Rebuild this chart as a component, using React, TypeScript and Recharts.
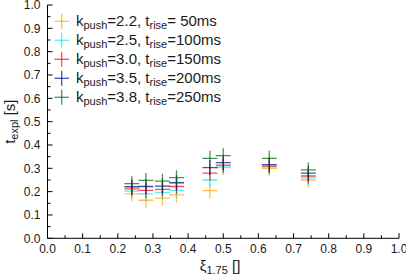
import React from 'react';
import { ScatterChart, Scatter, XAxis, YAxis } from 'recharts';

const xValues = [0.24, 0.28, 0.327, 0.367, 0.462, 0.5, 0.631, 0.742];
const seriesK22 = [0.19, 0.163, 0.172, 0.186, 0.204, 0.303, 0.3, 0.25];
const seriesK25 = [0.2025, 0.19, 0.197, 0.205, 0.25, 0.309, 0.306, 0.259];
const seriesK30 = [0.212, 0.205, 0.21, 0.222, 0.279, 0.314, 0.309, 0.267];
const seriesK35 = [0.221, 0.222, 0.224, 0.238, 0.303, 0.324, 0.316, 0.279];
const seriesK38 = [0.234, 0.248, 0.245, 0.26, 0.343, 0.354, 0.343, 0.293];

const kPush = ['2.2', '2.5', '3.0', '3.5', '3.8'];
const tRise = [' 50', '100', '150', '200', '250'];
const colors = ['#ffa500', '#00eeee', '#ff0000', '#00008b', '#006400'];
const allSeries = [seriesK22, seriesK25, seriesK30, seriesK35, seriesK38];

const xTicks = [0, 0.05, 0.1, 0.15, 0.2, 0.25, 0.3, 0.35, 0.4, 0.45, 0.5, 0.55, 0.6, 0.65, 0.7, 0.75, 0.8, 0.85, 0.9, 0.95, 1.0];
const yTicks = [0, 0.05, 0.1, 0.15, 0.2, 0.25, 0.3, 0.35, 0.4, 0.45, 0.5, 0.55, 0.6, 0.65, 0.7, 0.75, 0.8, 0.85, 0.9, 0.95, 1.0];

const W = 406;
const H = 277;
const LEFT = 47.5;
const TOP = 5;
const RIGHT = 399;
const BOTTOM = 238.3;
const MAJOR = 5;
const MINOR = 3;
const FONT = '"Liberation Sans", Arial, Helvetica, sans-serif';
const TXT = '#1a1a1a';

const isMajor = (v: number) => Math.round(v * 100) % 10 === 0;

const BottomTick = (props: any) => {
  const { x, payload } = props;
  const v = payload.value;
  const len = isMajor(v) ? MAJOR : MINOR;
  return (
    <g>
      <line x1={x} x2={x} y1={BOTTOM} y2={BOTTOM - len} stroke="#000" strokeWidth={1} />
      {isMajor(v) && (
        <text x={x} y={253} textAnchor="middle" fontSize={12} fontFamily={FONT} fill={TXT}>
          {v.toFixed(1)}
        </text>
      )}
    </g>
  );
};

const TopTick = (props: any) => {
  const { x, payload } = props;
  const len = isMajor(payload.value) ? MAJOR : MINOR;
  return <line x1={x} x2={x} y1={TOP} y2={TOP + len} stroke="#000" strokeWidth={1} />;
};

const LeftTick = (props: any) => {
  const { y, payload } = props;
  const v = payload.value;
  const len = isMajor(v) ? MAJOR : MINOR;
  return (
    <g>
      <line x1={LEFT} x2={LEFT + len} y1={y} y2={y} stroke="#000" strokeWidth={1} />
      {isMajor(v) && (
        <text x={40.5} y={y + 4.3} textAnchor="end" fontSize={12} fontFamily={FONT} fill={TXT}>
          {v.toFixed(1)}
        </text>
      )}
    </g>
  );
};

const RightTick = (props: any) => {
  const { y, payload } = props;
  const len = isMajor(payload.value) ? MAJOR : MINOR;
  return <line x1={RIGHT} x2={RIGHT - len} y1={y} y2={y} stroke="#000" strokeWidth={1} />;
};

const makeCross = (color: string) => (props: any) => {
  const { cx, cy } = props;
  const h = 7.5;
  return (
    <g stroke={color} strokeWidth={1.3} strokeOpacity={0.7}>
      <line x1={cx - h} x2={cx + h} y1={cy} y2={cy} />
      <line x1={cx} x2={cx} y1={cy - h} y2={cy + h} />
    </g>
  );
};

export default function App() {
  const datasets = allSeries.map((vals) => vals.map((y, i) => ({ x: xValues[i], y })));
  return (
    <div style={{ position: 'absolute', left: 0, top: 0, width: W, height: H, background: '#fff' }}>
      <ScatterChart width={W} height={H} margin={{ top: TOP, right: W - RIGHT, bottom: 0, left: 0 }}>
        <XAxis
          xAxisId="b"
          type="number"
          dataKey="x"
          domain={[0, 1]}
          ticks={xTicks}
          interval={0}
          height={H - BOTTOM}
          tickLine={false}
          axisLine={{ stroke: '#000' }}
          tick={<BottomTick />}
          allowDataOverflow
        />
        <XAxis
          xAxisId="t"
          orientation="top"
          type="number"
          dataKey="x"
          domain={[0, 1]}
          ticks={xTicks}
          interval={0}
          height={0}
          tickLine={false}
          axisLine={{ stroke: '#000' }}
          tick={<TopTick />}
          allowDataOverflow
        />
        <YAxis
          yAxisId="l"
          type="number"
          dataKey="y"
          domain={[0, 1]}
          ticks={yTicks}
          interval={0}
          width={LEFT}
          tickLine={false}
          axisLine={{ stroke: '#000' }}
          tick={<LeftTick />}
          allowDataOverflow
        />
        <YAxis
          yAxisId="r"
          orientation="right"
          type="number"
          dataKey="y"
          domain={[0, 1]}
          ticks={yTicks}
          interval={0}
          width={0}
          tickLine={false}
          axisLine={{ stroke: '#000' }}
          tick={<RightTick />}
          allowDataOverflow
        />
        {datasets.map((d, i) => (
          <Scatter
            key={i}
            xAxisId="b"
            yAxisId="l"
            data={d}
            isAnimationActive={false}
            shape={makeCross(colors[i])}
          />
        ))}
      </ScatterChart>
      <svg width={W} height={H} style={{ position: 'absolute', left: 0, top: 0, pointerEvents: 'none' }}>
        {kPush.map((k, i) => {
          const cy = 21.3 + 19 * i;
          return (
            <g key={i}>
              <g stroke={colors[i]} strokeWidth={1.3} strokeOpacity={0.7}>
                <line x1={54.5} x2={69} y1={cy} y2={cy} />
                <line x1={61.7} x2={61.7} y1={cy - 7.5} y2={cy + 7.5} />
              </g>
              <text x={76} y={cy + 5} fontSize={15} fontFamily={FONT} fill={TXT} xmlSpace="preserve">
                <tspan>k</tspan>
                <tspan fontSize={11} dy={3}>push</tspan>
                <tspan dy={-3}>{`=${k}, t`}</tspan>
                <tspan fontSize={11} dy={3}>rise</tspan>
                <tspan dy={-3}>{`=${tRise[i]}ms`}</tspan>
              </text>
            </g>
          );
        })}
        <text
          transform={`translate(14.5, ${(TOP + BOTTOM) / 2}) rotate(-90)`}
          textAnchor="middle"
          fontSize={15}
          fontFamily={FONT}
          fill={TXT}
        >
          <tspan>t</tspan>
          <tspan fontSize={11} dy={3}>expl</tspan>
          <tspan dy={-3}> [s]</tspan>
        </text>
        <text x={220} y={271} textAnchor="middle" fontSize={15} fontFamily={FONT} fill={TXT}>
          <tspan>ξ</tspan>
          <tspan fontSize={11} dy={3}>1.75</tspan>
          <tspan dy={-3}> []</tspan>
        </text>
      </svg>
    </div>
  );
}
